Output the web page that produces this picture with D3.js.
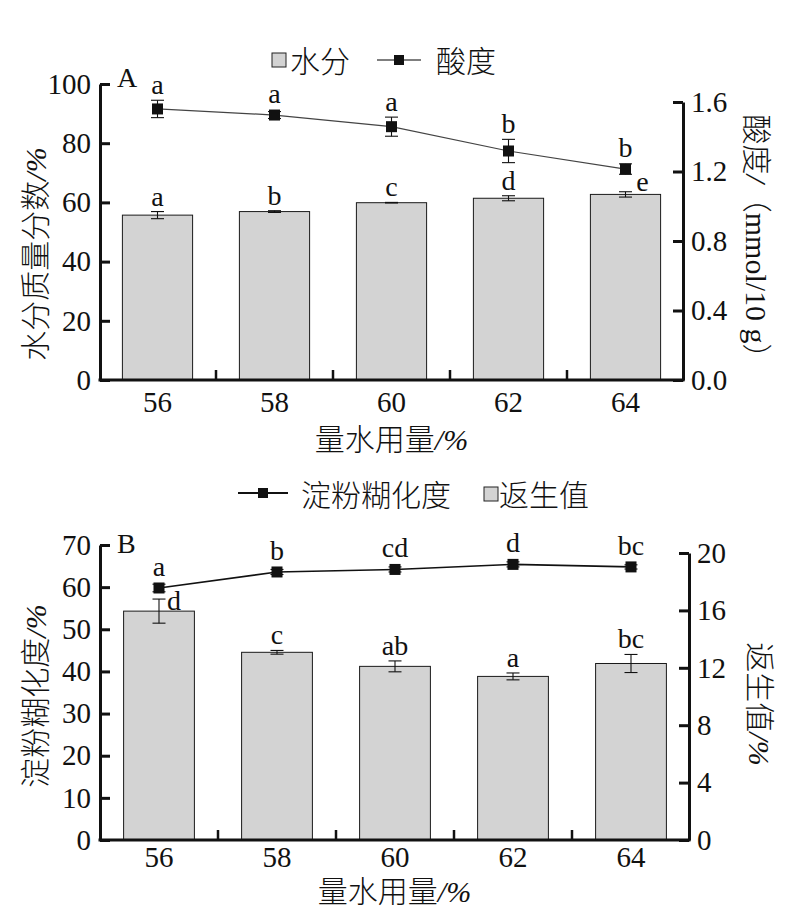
<!DOCTYPE html>
<html>
<head>
<meta charset="utf-8">
<script src="https://cdn.jsdelivr.net/npm/d3@7/dist/d3.min.js"></script>
<style>
  html, body { margin: 0; padding: 0; background: #fff; }
  svg { display: block; }
  text { font-family: "Liberation Serif", "Noto Sans CJK SC", serif; fill: #111; }
  .cjk { font-weight: 300; }
</style>
</head>
<body>
<svg id="chart" width="794" height="919"></svg>
<script>
// ---------- data ----------
const categories = ["56", "58", "60", "62", "64"];
// Panel A
const moisture = [55.7, 56.9, 59.9, 61.4, 62.7];
const moistureErr = [1.2, 0.3, 0.1, 0.85, 0.9];
const moistureLetters = ["a", "b", "c", "d", "e"];
const acidity = [1.56, 1.525, 1.458, 1.318, 1.214];
const acidityErr = [0.05, 0.02, 0.055, 0.067, 0.03];
const acidityLetters = ["a", "a", "a", "b", "b"];
const ticksALeft = [0, 20, 40, 60, 80, 100];
const ticksARight = [0, 0.4, 0.8, 1.2, 1.6];
// Panel B
const gelatinization = [59.8, 63.6, 64.2, 65.4, 64.8];
const gelatinizationErr = [0.9, 0.6, 0.6, 0.6, 0.5];
const gelatinizationLetters = ["a", "b", "cd", "d", "bc"];
const retrogradation = [15.95, 13.08, 12.1, 11.4, 12.3];
const retrogradationErr = [0.84, 0.13, 0.38, 0.24, 0.63];
const retrogradationLetters = ["d", "c", "ab", "a", "bc"];
const ticksBLeft = [0, 10, 20, 30, 40, 50, 60, 70];
const ticksBRight = [0, 4, 8, 12, 16, 20];

// ---------- styles ----------
const BAR_FILL = "#d3d3d3";
const AXIS_W = 3;
const TICK_FONT = 29;
const CJK_FONT = 30;

const svg = d3.select("#chart");

function panel(cfg) {
  const g = svg.append("g");
  const x = d3.scaleBand().domain(categories).range(cfg.xRange).padding(0);
  const yL = d3.scaleLinear().domain(cfg.leftDomain).range(cfg.leftRange);
  const yR = d3.scaleLinear().domain(cfg.rightDomain).range(cfg.rightRange);
  const barW = x.bandwidth() * 0.6;
  const cx = d => x(d) + x.bandwidth() / 2;
  const yBar = cfg.barAxis === "left" ? yL : yR;
  const yLine = cfg.lineAxis === "left" ? yL : yR;
  const y0 = yL(0);

  // bars
  g.selectAll("rect.bar").data(categories).join("rect")
    .attr("x", d => cx(d) - barW / 2)
    .attr("y", (d, i) => yBar(cfg.bars[i]))
    .attr("width", barW)
    .attr("height", (d, i) => y0 - yBar(cfg.bars[i]))
    .attr("fill", BAR_FILL).attr("stroke", "#1a1a1a").attr("stroke-width", 1);

  function errBars(vals, errs, sc) {
    categories.forEach((c, i) => {
      const xc = cx(c), top = sc(vals[i] + errs[i]), bot = sc(vals[i] - errs[i]);
      g.append("line").attr("x1", xc).attr("x2", xc).attr("y1", top).attr("y2", bot)
        .attr("stroke", "#111").attr("stroke-width", 1.1);
      [top, bot].forEach(yy => g.append("line").attr("x1", xc - 6.5).attr("x2", xc + 6.5)
        .attr("y1", yy).attr("y2", yy).attr("stroke", "#111").attr("stroke-width", 1.1));
    });
  }
  errBars(cfg.bars, cfg.barsErr, yBar);

  // line
  const line = d3.line().x((d, i) => cx(categories[i])).y(d => yLine(d));
  g.append("path").datum(cfg.line).attr("d", line).attr("fill", "none")
    .attr("stroke", cfg.lineColor).attr("stroke-width", cfg.lineWidth);
  errBars(cfg.line, cfg.lineErr, yLine);
  g.selectAll("rect.mk").data(categories).join("rect")
    .attr("x", d => cx(d) - 5.5)
    .attr("y", (d, i) => yLine(cfg.line[i]) - 5.5)
    .attr("width", 11).attr("height", 11).attr("fill", "#111");

  // letters
  function letters(vals, errs, labs, sc, key, isLine) {
    categories.forEach((c, i) => {
      let top = sc(vals[i] + errs[i]);
      if (isLine) top = Math.min(top, sc(vals[i]) - 6);
      const sh = (cfg.shifts[key] && cfg.shifts[key][i]) || [0, 0];
      g.append("text").attr("x", cx(c) + sh[0]).attr("y", top - 6 + sh[1])
        .attr("text-anchor", "middle").attr("font-size", 28).text(labs[i]);
    });
  }
  letters(cfg.bars, cfg.barsErr, cfg.barLetters, yBar, "bar", false);
  letters(cfg.line, cfg.lineErr, cfg.lineLetters, yLine, "line", true);

  // axes
  const leftX = cfg.leftAxisX, rightX = cfg.rightAxisX;
  const axL = g.append("g").attr("transform", `translate(${leftX},0)`)
    .call(d3.axisLeft(yL).tickValues(cfg.leftTicks).tickSize(-10).tickSizeOuter(0).tickPadding(9));
  const axR = g.append("g").attr("transform", `translate(${rightX},0)`)
    .call(d3.axisRight(yR).tickValues(cfg.rightTicks).tickFormat(cfg.rightFormat)
      .tickSize(-10).tickSizeOuter(0).tickPadding(8));
  [axL, axR].forEach(a => {
    a.select(".domain").attr("stroke", "#111").attr("stroke-width", AXIS_W);
    a.selectAll(".tick line").attr("stroke", "#111").attr("stroke-width", AXIS_W);
    a.selectAll(".tick text").attr("font-size", TICK_FONT)
      .attr("font-family", "Liberation Serif").attr("fill", "#111");
  });
  // bottom axis
  g.append("line").attr("x1", leftX - AXIS_W / 2).attr("x2", rightX + AXIS_W / 2)
    .attr("y1", y0).attr("y2", y0).attr("stroke", "#111").attr("stroke-width", AXIS_W);
  const axB = g.append("g").attr("transform", `translate(0,${y0})`)
    .call(d3.axisBottom(x).tickSize(0).tickPadding(cfg.xTickPad));
  axB.select(".domain").remove();
  axB.selectAll(".tick text").attr("font-size", TICK_FONT)
    .attr("font-family", "Liberation Serif").attr("fill", "#111");
  categories.slice(1).forEach(c => {
    g.append("line").attr("x1", x(c)).attr("x2", x(c)).attr("y1", y0).attr("y2", y0 - 10)
      .attr("stroke", "#111").attr("stroke-width", 2.5);
  });

  // panel letter
  g.append("text").attr("x", 117).attr("y", cfg.panelLabelY).attr("font-size", 28)
    .text(cfg.panelLabel);

  // axis titles
  g.append("text").attr("x", (leftX + rightX) / 2).attr("y", cfg.xTitleY)
    .attr("text-anchor", "middle").attr("font-size", CJK_FONT).attr("dominant-baseline", "central")
    .call(t => { t.append("tspan").attr("class", "cjk").text("量水用量"); t.append("tspan").attr("font-style", "italic").text("/%"); });
  g.append("text").attr("transform", `translate(${cfg.leftTitle.x},${cfg.leftTitle.y}) rotate(-90)`)
    .attr("text-anchor", "middle").attr("dominant-baseline", "central").attr("font-size", CJK_FONT)
    .call(t => { t.append("tspan").attr("class", "cjk").text(cfg.leftTitle.text); t.append("tspan").attr("font-style", "italic").text("/%"); });
  g.append("text").attr("transform", `translate(${cfg.rightTitle.x},${cfg.rightTitle.y}) rotate(90)`)
    .attr("text-anchor", "middle").attr("dominant-baseline", "central").attr("font-size", CJK_FONT)
    .call(t => cfg.rightTitle.parts.forEach(p => t.append("tspan").attr("class", p[2] ? "cjk" : null)
      .attr("font-style", p[1] ? "italic" : "normal").text(p[0])));
}

panel({
  xRange: [99, 684], leftAxisX: 100, rightAxisX: 683,
  leftDomain: [0, 100], leftRange: [380, 84],
  rightDomain: [0, 1.6], rightRange: [380, 102],
  leftTicks: ticksALeft, rightTicks: ticksARight, rightFormat: d3.format(".1f"),
  bars: moisture, barsErr: moistureErr, barLetters: moistureLetters, barAxis: "left",
  line: acidity, lineErr: acidityErr, lineLetters: acidityLetters, lineAxis: "right",
  lineColor: "#444", lineWidth: 1.2,
  shifts: { bar: { 4: [17, 5] } },
  panelLabel: "A", panelLabelY: 87, xTitleY: 439, xTickPad: 11,
  leftTitle: { x: 35, y: 254, text: "水分质量分数" },
  rightTitle: { x: 757, y: 244, parts: [["酸度", false, true], ["/", true, false], ["（", false, true], ["mmol/10 g", false, false], ["）", false, true]] }
});

panel({
  xRange: [100, 690], leftAxisX: 100, rightAxisX: 689,
  leftDomain: [0, 70], leftRange: [840, 545],
  rightDomain: [0, 20], rightRange: [840, 553],
  leftTicks: ticksBLeft, rightTicks: ticksBRight, rightFormat: d3.format("d"),
  bars: retrogradation, barsErr: retrogradationErr, barLetters: retrogradationLetters, barAxis: "right",
  line: gelatinization, lineErr: gelatinizationErr, lineLetters: gelatinizationLetters, lineAxis: "left",
  lineColor: "#111", lineWidth: 1.6,
  shifts: { bar: { 0: [15, 17] } },
  panelLabel: "B", panelLabelY: 553, xTitleY: 891, xTickPad: 6,
  leftTitle: { x: 35, y: 696, text: "淀粉糊化度" },
  rightTitle: { x: 760, y: 704, parts: [["返生值", false, true], ["/%", true, false]] }
});

// ---------- legends ----------
function legendBox(x, y) {
  svg.append("rect").attr("x", x).attr("y", y - 7).attr("width", 14).attr("height", 14)
    .attr("fill", BAR_FILL).attr("stroke", "#222").attr("stroke-width", 1);
}
function legendLine(x1, x2, y, color, w) {
  svg.append("line").attr("x1", x1).attr("x2", x2).attr("y1", y).attr("y2", y)
    .attr("stroke", color).attr("stroke-width", w);
  svg.append("rect").attr("x", (x1 + x2) / 2 - 5).attr("y", y - 5).attr("width", 10).attr("height", 10)
    .attr("fill", "#111");
}
function legendText(x, y, s) {
  svg.append("text").attr("class", "cjk").attr("x", x).attr("y", y).attr("dominant-baseline", "central")
    .attr("font-size", CJK_FONT).text(s);
}
// Panel A legend
legendBox(272, 60); legendText(290, 61, "水分");
legendLine(377, 421, 60, "#555", 1.5); legendText(436, 61, "酸度");
// Panel B legend
legendLine(238, 288, 493, "#111", 2); legendText(301, 495, "淀粉糊化度");
legendBox(484, 494); legendText(499, 495, "返生值");
</script>
</body>
</html>
